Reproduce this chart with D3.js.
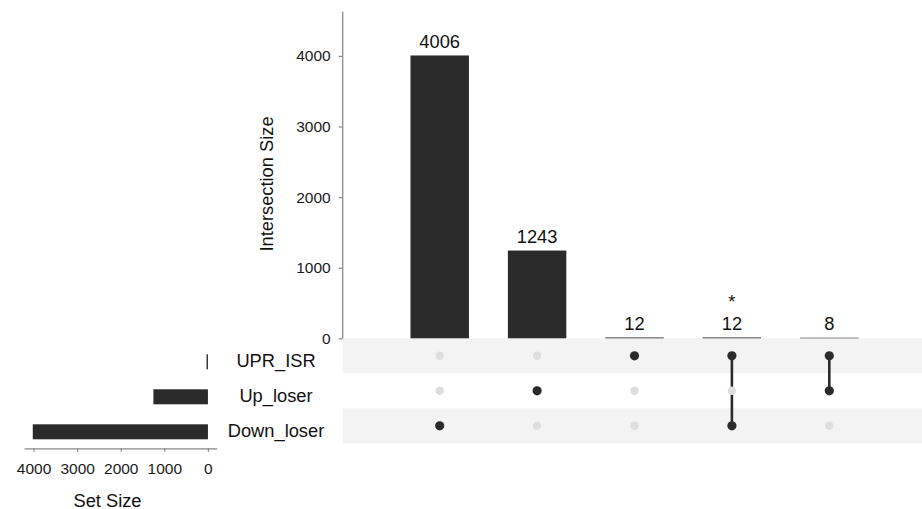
<!DOCTYPE html>
<html>
<head>
<meta charset="utf-8">
<script src="https://cdn.jsdelivr.net/npm/d3@7"></script>
<style>
  html, body { margin: 0; padding: 0; background: #fff; }
  svg { display: block; font-family: "Liberation Sans", Arial, sans-serif; }
</style>
</head>
<body>
<svg id="chart" width="922" height="509"></svg>
<script>
// Sets (top to bottom in the matrix)
const setNames = ["UPR_ISR", "Up_loser", "Down_loser"];
// Intersections, in display order
const intersectionSizes = [4006, 1243, 12, 12, 8];
const intersectionMembers = [
  ["Down_loser"],
  ["Up_loser"],
  ["UPR_ISR"],
  ["UPR_ISR", "Down_loser"],
  ["UPR_ISR", "Up_loser"]
];
const intersectionMarks = ["", "", "", "*", ""];
// Set sizes = sum of the intersections each set takes part in
const setSizes = [32, 1251, 4018];
const intersectionTicks = [0, 1000, 2000, 3000, 4000];
const setSizeTicks = [0, 1000, 2000, 3000, 4000];

const svg = d3.select("#chart");
const dark = "#2b2b2b";
const axisGrey = "#8a8a8a";
const labelSize = 18.3;
const tickSize = 15.5;
const fontFamily = "Liberation Sans, Arial, sans-serif";

// ---------- layout ----------
const matrixLeft = 342.7, matrixRight = 922;
const barBase = 338.3, barTop = 11.7;
const rowH = 35;

const x = d3.scalePoint()
  .domain(d3.range(intersectionSizes.length))
  .range([439.7, 829.3]);
const barW = x.step() * 0.6;

const y = d3.scaleLinear().domain([0, 4626]).range([barBase, barTop]);

const rowY = d3.scalePoint()
  .domain(setNames)
  .range([barBase + rowH / 2, barBase + rowH * 2.5]);

// ---------- matrix stripes ----------
svg.append("g").selectAll("rect")
  .data(setNames.filter((d, i) => i % 2 === 0))
  .join("rect")
  .attr("x", matrixLeft)
  .attr("y", d => rowY(d) - rowH / 2)
  .attr("width", matrixRight - matrixLeft)
  .attr("height", rowH)
  .attr("fill", "#f3f3f3");

// ---------- intersection bars ----------
svg.append("g").selectAll("rect")
  .data(intersectionSizes)
  .join("rect")
  .attr("x", (d, i) => x(i) - barW / 2)
  .attr("y", d => y(d))
  .attr("width", barW)
  .attr("height", d => barBase - y(d))
  .attr("fill", dark);

// value labels
svg.append("g").selectAll("text")
  .data(intersectionSizes)
  .join("text")
  .attr("x", (d, i) => x(i))
  .attr("y", d => y(d) - 7.5)
  .attr("text-anchor", "middle")
  .attr("font-size", labelSize)
  .attr("fill", "#111")
  .text(d => d);

// significance marks
svg.append("g").selectAll("text")
  .data(intersectionMarks)
  .join("text")
  .attr("x", (d, i) => x(i))
  .attr("y", (d, i) => y(intersectionSizes[i]) - 29)
  .attr("text-anchor", "middle")
  .attr("font-size", labelSize)
  .attr("fill", "#111")
  .text(d => d);

// y axis of intersection sizes
const yAxis = svg.append("g")
  .attr("transform", `translate(${matrixLeft},0)`)
  .call(d3.axisLeft(y).tickValues(intersectionTicks).tickFormat(d3.format("d"))
    .tickSize(4).tickPadding(8).tickSizeOuter(0));
yAxis.select(".domain").attr("stroke", axisGrey).attr("stroke-width", 1.3)
  .attr("d", `M0,${barTop}V${barBase}`);
yAxis.selectAll(".tick line").attr("stroke", axisGrey).attr("stroke-width", 1.2);
yAxis.selectAll(".tick text")
  .attr("font-size", tickSize).attr("fill", "#1a1a1a")
  .attr("font-family", fontFamily);

svg.append("text")
  .attr("transform", `translate(272.5,184) rotate(-90)`)
  .attr("text-anchor", "middle")
  .attr("font-size", labelSize)
  .attr("fill", "#111")
  .text("Intersection Size");

// ---------- matrix dots and connectors ----------
const matrix = svg.append("g");
intersectionMembers.forEach((members, i) => {
  const ys = members.map(m => rowY(m));
  if (ys.length > 1) {
    matrix.append("line")
      .attr("x1", x(i)).attr("x2", x(i))
      .attr("y1", d3.min(ys)).attr("y2", d3.max(ys))
      .attr("stroke", dark).attr("stroke-width", 2.6);
  }
  setNames.forEach(s => {
    const on = members.includes(s);
    matrix.append("circle")
      .attr("cx", x(i)).attr("cy", rowY(s))
      .attr("r", on ? 4.6 : 4.2)
      .attr("fill", on ? dark : "#dedede");
  });
});

// ---------- set size panel ----------
const sx = d3.scaleLinear().domain([-201, 4219]).range([216.7, 24]);
const setBarH = 15;
const setBarOffset = 6;

svg.append("g").selectAll("rect")
  .data(setSizes)
  .join("rect")
  .attr("x", d => sx(d))
  .attr("y", (d, i) => rowY(setNames[i]) + setBarOffset - setBarH / 2)
  .attr("width", d => sx(0) - sx(d))
  .attr("height", setBarH)
  .attr("fill", dark);

svg.append("g").selectAll("text")
  .data(setNames)
  .join("text")
  .attr("x", 276)
  .attr("y", d => rowY(d) + 10.8)
  .attr("text-anchor", "middle")
  .attr("font-size", labelSize)
  .attr("fill", "#111")
  .text(d => d);

const sAxis = svg.append("g")
  .attr("transform", "translate(0,448.3)")
  .call(d3.axisBottom(sx).tickValues(setSizeTicks).tickFormat(d3.format("d"))
    .tickSize(3.5).tickPadding(11).tickSizeOuter(0));
sAxis.select(".domain").attr("stroke", axisGrey).attr("stroke-width", 1.3);
sAxis.selectAll(".tick line").attr("stroke", axisGrey).attr("stroke-width", 1.2);
sAxis.selectAll(".tick text")
  .attr("font-size", tickSize).attr("fill", "#1a1a1a")
  .attr("font-family", fontFamily);

svg.append("text")
  .attr("x", 107.5)
  .attr("y", 506.5)
  .attr("text-anchor", "middle")
  .attr("font-size", labelSize)
  .attr("fill", "#111")
  .text("Set Size");
</script>
</body>
</html>
